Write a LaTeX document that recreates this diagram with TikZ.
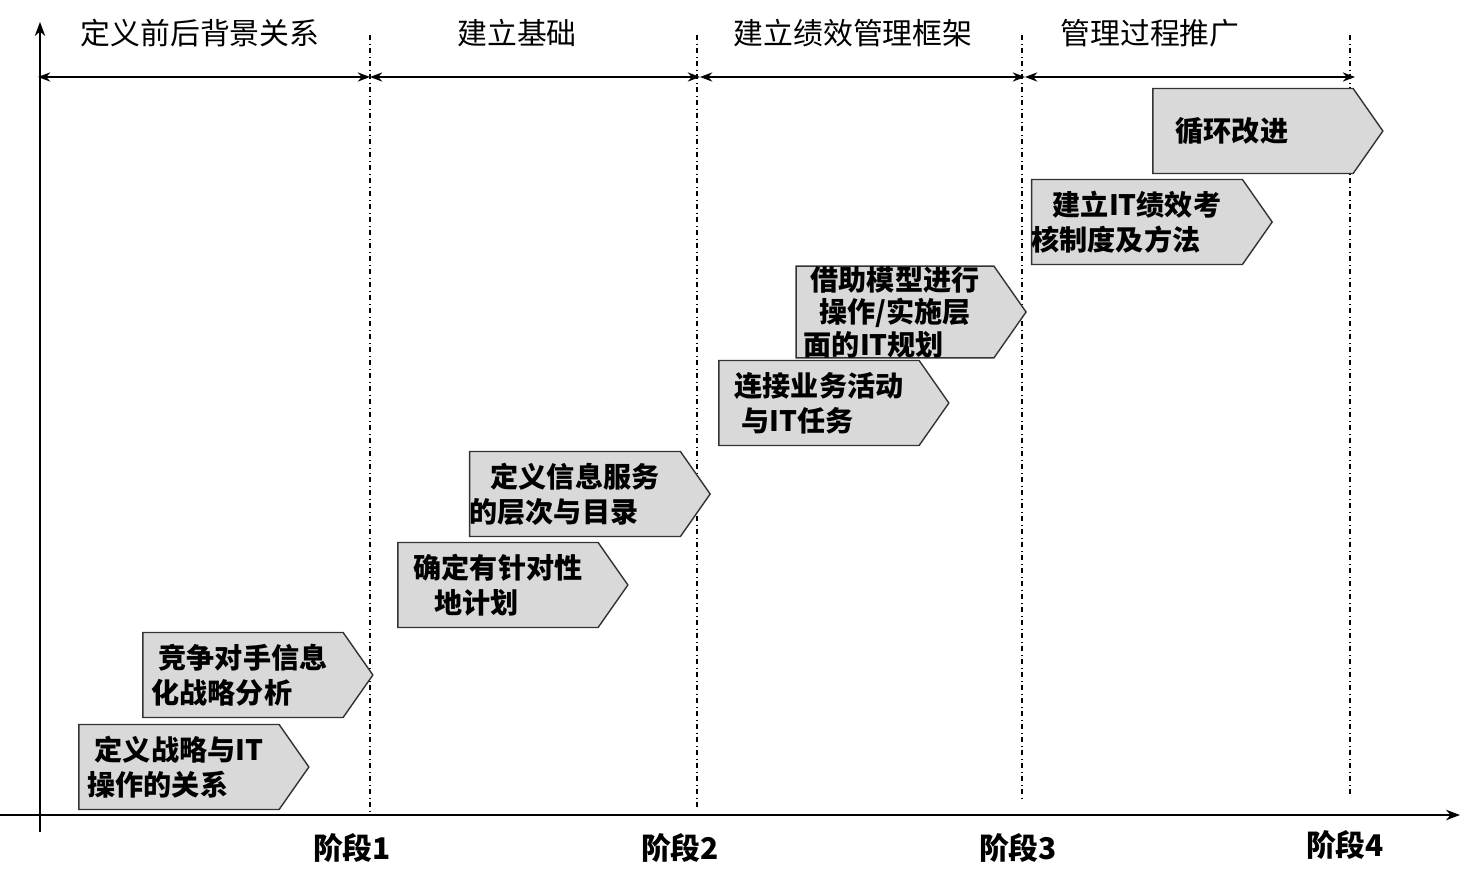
\documentclass[tikz,border=0pt]{standalone}
\usepackage{fontspec}
\newfontfamily\cjk{Noto Sans CJK SC}
\usetikzlibrary{shapes.symbols,arrows.meta}
\begin{document}
\begin{tikzpicture}[x=0.02cm,y=-0.02cm,
  stagebox/.style={signal, signal to=east, signal pointer angle=110, draw=black!80, fill=black!15, line width=0.8pt,
    minimum width=230*0.02cm, minimum height=85*0.02cm, inner sep=0pt, font=\cjk\bfseries\fontsize{16}{20}\selectfont, align=center},
  hdr/.style={font=\cjk\fontsize{17}{20}\selectfont},
  stg/.style={font=\cjk\bfseries\fontsize{17}{20}\selectfont},
  dd/.style={dash dot, line width=0.6pt},
  span/.style={{Stealth[length=7pt]}-{Stealth[length=7pt]}, line width=0.8pt}]
\useasboundingbox (0,0) rectangle (1471,888);
\coordinate (vb) at (40,832); \coordinate (vt) at (40,22);
\coordinate (hl) at (0,815); \coordinate (hr) at (1460,815);
\draw[-{Stealth[length=8pt]}, line width=0.8pt] (vb) -- (vt);
\draw[-{Stealth[length=8pt]}, line width=0.8pt] (hl) -- (hr);
\foreach \n/\x/\b in {a/370/815,b/697/810,c/1022/800,d/1350/795}{
  \coordinate (t\n) at (\x,35); \coordinate (b\n) at (\x,\b);
  \draw[dd] (t\n) -- (b\n);}
\coordinate (s0) at (38,77); \coordinate (s1) at (370,77); \coordinate (s2) at (700,77);
\coordinate (s3) at (1025,77); \coordinate (s4) at (1355,77);
\draw[span] (s0) -- (s1); \draw[span] (s1) -- (s2); \draw[span] (s2) -- (s3); \draw[span] (s3) -- (s4);
\node[hdr] (h1) at (200,33) {定义前后背景关系};
\node[hdr] (h2) at (517,33) {建立基础};
\node[hdr] (h3) at (853,33) {建立绩效管理框架};
\node[hdr] (h4) at (1150,33) {管理过程推广};
\node[stg] (p1) at (352,848) {阶段1};
\node[stg] (p2) at (680,848) {阶段2};
\node[stg] (p3) at (1018,848) {阶段3};
\node[stg] (p4) at (1345,845) {阶段4};
\node[stagebox] (k1) at (179,767) {定义战略与IT\\操作的关系\hspace*{1.5em}};
\node[stagebox] (k2) at (243,675) {竞争对手信息\\化战略分析\hspace*{1.5em}};
\node[stagebox] (k3) at (498,585) {确定有针对性\\地计划\hspace*{1.5em}};
\node[stagebox] (k4) at (575,494) {定义信息服务\\的层次与目录\hspace*{1.5em}};
\node[stagebox] (k5) at (819,403) {连接业务活动\\与IT任务\hspace*{1.5em}};
\node[stagebox, font=\cjk\bfseries\fontsize{16}{18.5}\selectfont] (k6) at (895,312) {借助模型进行\\操作/实施层\\面的IT规划\hspace*{1.5em}};
\node[stagebox] (k7) at (1137,222) {建立IT绩效考\\核制度及方法\hspace*{1.5em}};
\node[stagebox] (k8) at (1253,131) {循环改进\hspace*{1.5em}};
\end{tikzpicture}
\end{document}
